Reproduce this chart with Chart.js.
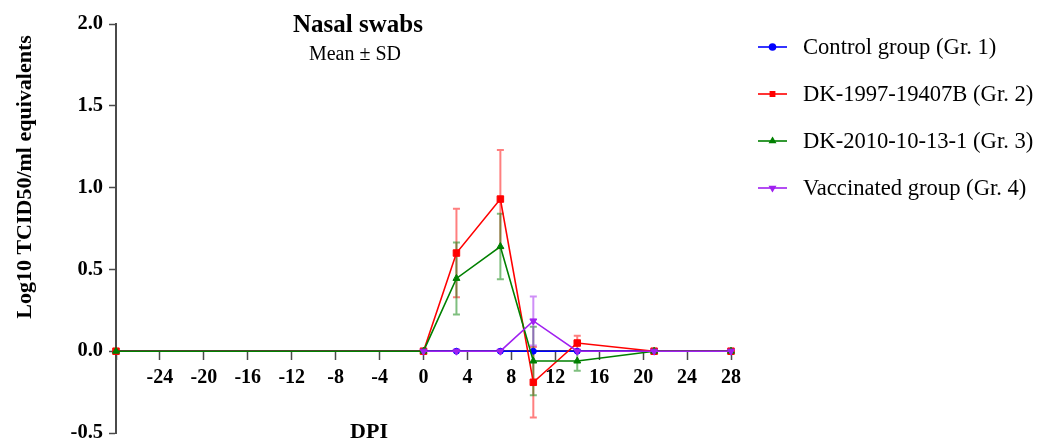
<!DOCTYPE html>
<html>
<head>
<meta charset="utf-8">
<script src="https://cdn.jsdelivr.net/npm/chart.js@4/dist/chart.umd.min.js"></script>
<style>
  html, body { margin: 0; padding: 0; background: #ffffff; overflow: hidden; }
  #wrap { width: 1042px; height: 470px; position: relative; }
</style>
</head>
<body>
<div id="wrap"><canvas id="c" width="1042" height="470"></canvas></div>
<script>
// Days post inoculation (DPI) at which nasal swabs were sampled
const days = [-28, 0, 3, 7, 10, 14, 21, 28];

// Group means (log10 TCID50/ml equivalents) and standard deviations
const gr1Mean = [0, 0, 0, 0, 0, 0, 0, 0];
const gr1Sd   = [0, 0, 0, 0, 0, 0, 0, 0];
const gr2Mean = [0, 0, 0.60, 0.93, -0.19, 0.05, 0, 0];
const gr2Sd   = [0, 0, 0.27, 0.30, 0.215, 0.045, 0, 0];
const gr3Mean = [0, 0, 0.445, 0.64, -0.06, -0.06, 0, 0];
const gr3Sd   = [0, 0, 0.22, 0.20, 0.21, 0.06, 0, 0];
const gr4Mean = [null, 0, 0, 0, 0.185, 0, 0, 0];
const gr4Sd   = [0, 0, 0, 0, 0.15, 0, 0, 0];

const groupLabels = [
  'Control group (Gr. 1)',
  'DK-1997-19407B (Gr. 2)',
  'DK-2010-10-13-1 (Gr. 3)',
  'Vaccinated group (Gr. 4)'
];

const titleText = 'Nasal swabs';
const subtitleText = 'Mean \u00B1 SD';
const yTitleText = 'Log10 TCID50/ml equivalents';
const xTitleText = 'DPI';

const SERIF = '"Liberation Serif", "Times New Roman", serif';

function pts(means) {
  return days.map((d, i) => ({ x: d, y: means[i] }));
}

const groups = [
  { mean: gr1Mean, sd: gr1Sd, color: '#0000FF', bar: 'rgba(0,0,255,0.5)',   style: 'circle',   rot: 0,   r: 3,   order: 4 },
  { mean: gr2Mean, sd: gr2Sd, color: '#FF0000', bar: 'rgba(255,0,0,0.5)',   style: 'rect',     rot: 0,   r: 4.6, order: 3 },
  { mean: gr3Mean, sd: gr3Sd, color: '#008000', bar: 'rgba(0,128,0,0.5)',   style: 'triangle', rot: 0,   r: 4,   order: 2 },
  { mean: gr4Mean, sd: gr4Sd, color: '#A020F0', bar: 'rgba(160,32,240,0.5)', style: 'triangle', rot: 180, r: 4,   order: 1 }
];

const datasets = groups.map((g, i) => ({
  label: groupLabels[i],
  data: pts(g.mean),
  borderColor: g.color,
  backgroundColor: g.color,
  pointBackgroundColor: g.color,
  pointBorderColor: g.color,
  pointStyle: g.style,
  pointRotation: g.rot,
  pointRadius: g.r,
  pointBorderWidth: 1,
  borderWidth: 1.6,
  tension: 0,
  spanGaps: false,
  order: g.order,
  clip: false,
  errColor: g.bar,
  sd: g.sd
}));

// Vertical SD whiskers with caps, drawn beneath the lines
const errorBars = {
  id: 'errorBars',
  beforeDatasetsDraw(chart) {
    const ctx = chart.ctx;
    const xs = chart.scales.x, ys = chart.scales.y;
    ctx.save();
    chart.data.datasets.forEach((ds) => {
      ctx.strokeStyle = ds.errColor;
      ctx.lineWidth = 2;
      ds.data.forEach((p, i) => {
        const s = ds.sd[i];
        if (p.y === null || !s) return;
        const px = xs.getPixelForValue(p.x);
        const top = ys.getPixelForValue(p.y + s);
        const bot = ys.getPixelForValue(p.y - s);
        ctx.beginPath();
        ctx.moveTo(px, top); ctx.lineTo(px, bot);
        ctx.moveTo(px - 3.5, top); ctx.lineTo(px + 3.5, top);
        ctx.moveTo(px - 3.5, bot); ctx.lineTo(px + 3.5, bot);
        ctx.stroke();
      });
    });
    ctx.restore();
  }
};

// Title block, axis titles and the line-and-marker legend
const annotations = {
  id: 'annotations',
  afterDraw(chart) {
    const ctx = chart.ctx;
    ctx.save();
    ctx.fillStyle = '#000';
    ctx.textAlign = 'center';
    ctx.textBaseline = 'alphabetic';
    ctx.font = 'bold 25px ' + SERIF;
    ctx.fillText(titleText, 358, 32);
    ctx.font = '20px ' + SERIF;
    ctx.fillText(subtitleText, 355, 60);

    ctx.font = 'bold 22px ' + SERIF;
    ctx.fillText(xTitleText, 369, 438);

    ctx.save();
    ctx.translate(31, 177);
    ctx.rotate(-Math.PI / 2);
    ctx.fillText(yTitleText, 0, 0);
    ctx.restore();

    // legend
    chart.data.datasets.forEach((ds, i) => {
      const y = 47 + i * 47;
      ctx.strokeStyle = ds.borderColor;
      ctx.lineWidth = 1.6;
      ctx.beginPath();
      ctx.moveTo(758, y); ctx.lineTo(787, y);
      ctx.stroke();
      ctx.fillStyle = ds.borderColor;
      Chart.helpers.drawPoint(ctx, {
        pointStyle: ds.pointStyle, rotation: ds.pointRotation,
        radius: 3, borderWidth: 1
      }, 772.5, y);
      ctx.fillStyle = '#000';
      ctx.textAlign = 'left';
      ctx.textBaseline = 'middle';
      ctx.font = '22.6px ' + SERIF;
      ctx.fillText(ds.label, 803, y + 1);
    });
    ctx.restore();
  }
};

const axisColor = '#4a4a4a';

new Chart(document.getElementById('c'), {
  type: 'line',
  data: { datasets },
  options: {
    responsive: false,
    animation: false,
    events: [],
    layout: { padding: { left: 0, top: 24, right: 311, bottom: 37 } },
    plugins: { legend: { display: false }, tooltip: { enabled: false }, title: { display: false } },
    scales: {
      x: {
        type: 'linear',
        position: { y: 0 },
        min: -28, max: 28,
        ticks: {
          stepSize: 4,
          autoSkip: false,
          maxRotation: 0,
          padding: 7,
          color: '#000',
          font: { family: SERIF, size: 20, weight: 'bold' },
          callback: (v) => (v === -28 ? '' : String(v))
        },
        grid: { drawOnChartArea: false, drawTicks: true, tickLength: 8, tickWidth: 1.5, tickColor: axisColor, color: axisColor },
        border: { display: true, color: axisColor, width: 2 }
      },
      y: {
        type: 'linear',
        position: 'left',
        min: -0.5, max: 2.0,
        afterFit(scale) { scale.width = 116; },
        ticks: {
          stepSize: 0.5,
          padding: 6,
          color: '#000',
          font: { family: SERIF, size: 20.5, weight: 'bold' },
          callback: (v) => Number(v).toFixed(1)
        },
        grid: { drawOnChartArea: false, drawTicks: true, tickLength: 7, tickWidth: 1.5, tickColor: axisColor, color: axisColor },
        border: { display: true, color: axisColor, width: 2 }
      }
    }
  },
  plugins: [errorBars, annotations]
});
</script>
</body>
</html>
